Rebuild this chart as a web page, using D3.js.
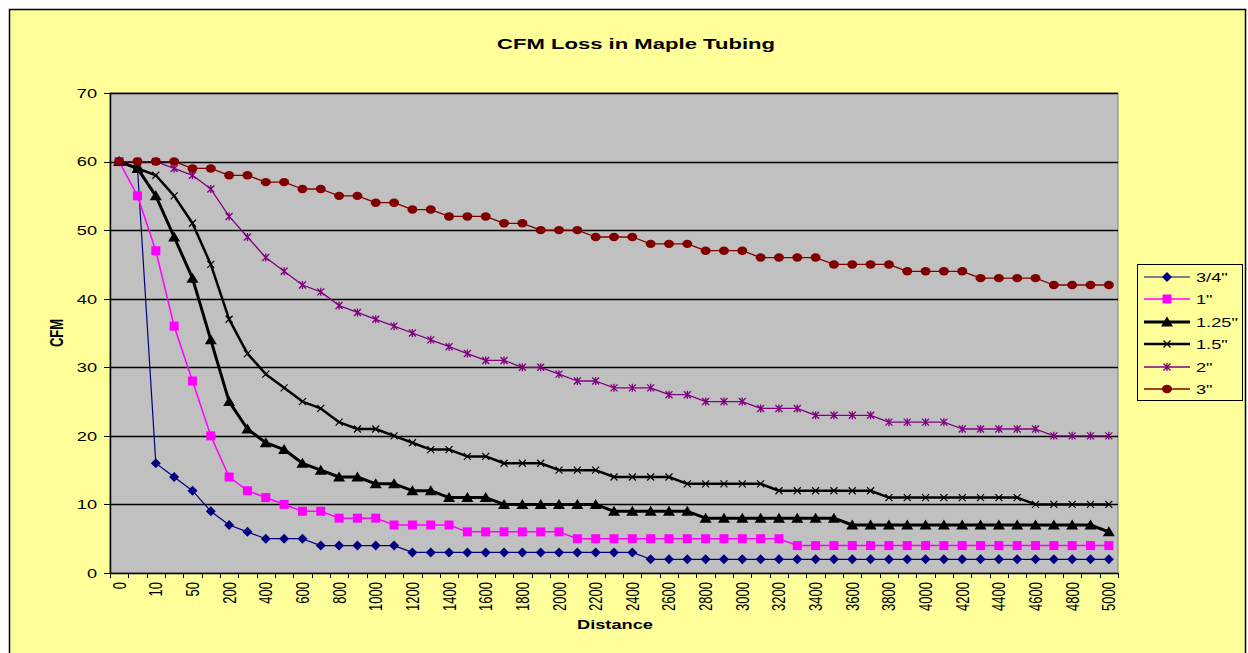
<!DOCTYPE html>
<html>
<head>
<meta charset="utf-8">
<script src="https://cdn.jsdelivr.net/npm/d3@7"></script>
<style>
  html, body { margin: 0; padding: 0; background: #ffffff; }
  svg { display: block; font-family: Arial, "Liberation Sans", sans-serif; }
</style>
</head>
<body>
<svg id="chart" width="1248" height="653"></svg>
<script>
// Distance categories (feet)
const distances = [0, 5, 10, 25, 50, 100,
  200, 300, 400, 500, 600, 700, 800, 900, 1000, 1100, 1200, 1300, 1400, 1500,
  1600, 1700, 1800, 1900, 2000, 2100, 2200, 2300, 2400, 2500, 2600, 2700, 2800,
  2900, 3000, 3100, 3200, 3300, 3400, 3500, 3600, 3700, 3800, 3900, 4000, 4100,
  4200, 4300, 4400, 4500, 4600, 4700, 4800, 4900, 5000];

// Every other category carries a label
const xTickLabels = distances.filter((d, i) => i % 2 === 0);
const yTicks = [0, 10, 20, 30, 40, 50, 60, 70];

const seriesNames = ['3/4"', '1"', '1.25"', '1.5"', '2"', '3"'];

const cfm075 = [60, 59, 16, 14, 12, 9, 7, 6, 5, 5, 5, 4, 4, 4, 4, 4,
  3, 3, 3, 3, 3, 3, 3, 3, 3, 3, 3, 3, 3,
  2, 2, 2, 2, 2, 2, 2, 2, 2, 2, 2, 2, 2, 2, 2, 2, 2, 2, 2, 2, 2, 2, 2, 2, 2, 2];

const cfm100 = [60, 55, 47, 36, 28, 20, 14, 12, 11, 10, 9, 9, 8, 8, 8,
  7, 7, 7, 7,
  6, 6, 6, 6, 6, 6,
  5, 5, 5, 5, 5, 5, 5, 5, 5, 5, 5, 5,
  4, 4, 4, 4, 4, 4, 4, 4, 4, 4, 4, 4, 4, 4, 4, 4, 4, 4];

const cfm125 = [60, 59, 55, 49, 43, 34, 25, 21, 19, 18, 16, 15, 14, 14, 13, 13,
  12, 12, 11, 11, 11,
  10, 10, 10, 10, 10, 10,
  9, 9, 9, 9, 9,
  8, 8, 8, 8, 8, 8, 8, 8,
  7, 7, 7, 7, 7, 7, 7, 7, 7, 7, 7, 7, 7, 7,
  6];

const cfm150 = [60, 59, 58, 55, 51, 45, 37, 32, 29, 27, 25, 24, 22, 21, 21, 20,
  19, 18, 18, 17, 17, 16, 16, 16, 15, 15, 15,
  14, 14, 14, 14,
  13, 13, 13, 13, 13,
  12, 12, 12, 12, 12, 12,
  11, 11, 11, 11, 11, 11, 11, 11,
  10, 10, 10, 10, 10];

const cfm200 = [60, 60, 60, 59, 58, 56, 52, 49, 46, 44, 42, 41, 39, 38, 37, 36,
  35, 34, 33, 32, 31, 31, 30, 30, 29, 28, 28, 27, 27, 27, 26, 26,
  25, 25, 25, 24, 24, 24, 23, 23, 23, 23, 22, 22, 22, 22,
  21, 21, 21, 21, 21, 20, 20, 20, 20];

const cfm300 = [60, 60, 60, 60, 59, 59, 58, 58, 57, 57, 56, 56, 55, 55, 54, 54,
  53, 53, 52, 52, 52, 51, 51, 50, 50, 50, 49, 49, 49, 48, 48, 48,
  47, 47, 47, 46, 46, 46, 46, 45, 45, 45, 45, 44, 44, 44, 44,
  43, 43, 43, 43, 42, 42, 42, 42];

const seriesValues = [cfm075, cfm100, cfm125, cfm150, cfm200, cfm300];

// Visual style for each series
const styles = [
  { color: '#000080', width: 1.2, marker: 'diamond' },
  { color: '#FF00FF', width: 1.5, marker: 'square' },
  { color: '#000000', width: 3,   marker: 'triangle' },
  { color: '#000000', width: 2.5, marker: 'x' },
  { color: '#800080', width: 1.3, marker: 'asterisk' },
  { color: '#800000', width: 1.3, marker: 'circle' }
];

// Text in this chart is drawn horizontally widened
const WIDEN = 1.4;

const svg = d3.select('#chart');

// Chart area background with frame
svg.append('rect').attr('x', 9.5).attr('y', 9.5).attr('width', 1236).attr('height', 660)
  .attr('fill', '#FFFF99').attr('stroke', '#000').attr('stroke-width', 1.5);

const plot = { left: 110, right: 1118, top: 93, bottom: 573 };

const x = d3.scaleBand().domain(d3.range(distances.length))
  .range([plot.left, plot.right]).padding(0);
const y = d3.scaleLinear().domain([0, 70]).range([plot.bottom, plot.top]);
const cx = i => x(i) + x.bandwidth() / 2;

// Plot area
svg.append('rect').attr('x', plot.left).attr('y', plot.top)
  .attr('width', plot.right - plot.left).attr('height', plot.bottom - plot.top)
  .attr('fill', '#C0C0C0').attr('stroke', '#808080').attr('stroke-width', 1);

// Horizontal gridlines
svg.append('g').selectAll('line').data(yTicks.filter(v => v > 0)).join('line')
  .attr('x1', plot.left).attr('x2', plot.right)
  .attr('y1', d => Math.round(y(d)) + 0.5).attr('y2', d => Math.round(y(d)) + 0.5)
  .attr('stroke', '#000').attr('stroke-width', 1.3);

// Y axis
const yg = svg.append('g');
yg.append('line').attr('x1', plot.left + 0.5).attr('x2', plot.left + 0.5)
  .attr('y1', plot.top).attr('y2', plot.bottom + 1)
  .attr('stroke', '#000').attr('stroke-width', 1.5);
yg.selectAll('line.tk').data(yTicks).join('line').attr('class', 'tk')
  .attr('x1', plot.left - 6).attr('x2', plot.left)
  .attr('y1', d => Math.round(y(d)) + 0.5).attr('y2', d => Math.round(y(d)) + 0.5)
  .attr('stroke', '#000').attr('stroke-width', 1);
yg.selectAll('text').data(yTicks).join('text')
  .attr('transform', d => `translate(97,${y(d) + 4.8}) scale(${WIDEN},1)`)
  .attr('text-anchor', 'end').attr('font-size', 13).text(d => d);

// X axis: tick marks at category boundaries
const xg = svg.append('g');
xg.append('line').attr('x1', plot.left).attr('x2', plot.right)
  .attr('y1', plot.bottom + 0.5).attr('y2', plot.bottom + 0.5)
  .attr('stroke', '#000').attr('stroke-width', 1.5);
xg.selectAll('line.tk').data(d3.range(distances.length + 1)).join('line')
  .attr('class', 'tk')
  .attr('x1', i => Math.round(plot.left + i * x.bandwidth()) + 0.5)
  .attr('x2', i => Math.round(plot.left + i * x.bandwidth()) + 0.5)
  .attr('y1', plot.bottom).attr('y2', plot.bottom + 5)
  .attr('stroke', '#000').attr('stroke-width', 1);
xg.selectAll('text').data(xTickLabels).join('text')
  .attr('transform', d => `translate(${cx(distances.indexOf(d)) + 6.5},${plot.bottom + 9}) scale(${WIDEN},1) rotate(-90)`)
  .attr('text-anchor', 'end')
  .attr('font-size', 13)
  .text(d => d);

// Titles
svg.append('text').attr('x', 497).attr('y', 49)
  .attr('textLength', 278).attr('lengthAdjust', 'spacingAndGlyphs')
  .attr('font-size', 15).attr('font-weight', 'bold').text('CFM Loss in Maple Tubing');
svg.append('text').attr('transform', `translate(63,333) scale(${WIDEN},1) rotate(-90)`).attr('text-anchor', 'middle')
  .attr('font-size', 13).attr('font-weight', 'bold').text('CFM');
svg.append('text').attr('x', 577).attr('y', 629)
  .attr('textLength', 76).attr('lengthAdjust', 'spacingAndGlyphs')
  .attr('font-size', 13).attr('font-weight', 'bold').text('Distance');

// Marker drawing
function drawMarker(g, type, color) {
  switch (type) {
    case 'diamond':
      g.append('path').attr('d', 'M0,-5L5,0L0,5L-5,0Z').attr('fill', color);
      break;
    case 'square':
      g.append('rect').attr('x', -4.5).attr('y', -4.5).attr('width', 9).attr('height', 9).attr('fill', color);
      break;
    case 'triangle':
      g.append('path').attr('d', 'M0,-5.5L6,4.5L-6,4.5Z').attr('fill', color);
      break;
    case 'x':
      g.append('path').attr('d', 'M-3.5,-3.5L3.5,3.5M-3.5,3.5L3.5,-3.5')
        .attr('stroke', color).attr('stroke-width', 1.2).attr('fill', 'none');
      break;
    case 'asterisk':
      g.append('path').attr('d', 'M-3.5,-3.5L3.5,3.5M-3.5,3.5L3.5,-3.5M0,-4L0,4')
        .attr('stroke', color).attr('stroke-width', 1.3).attr('fill', 'none');
      break;
    case 'circle':
      g.append('ellipse').attr('rx', 5).attr('ry', 4.2).attr('fill', color);
      break;
  }
}

// Series lines and markers
const line = d3.line().x((d, i) => cx(i)).y(d => y(d));
seriesValues.forEach((vals, s) => {
  const st = styles[s];
  const g = svg.append('g');
  g.append('path').datum(vals).attr('d', line)
    .attr('fill', 'none').attr('stroke', st.color).attr('stroke-width', st.width)
    .attr('stroke-linejoin', 'round');
  vals.forEach((v, i) => {
    const m = g.append('g').attr('transform', `translate(${cx(i)},${y(v)})`);
    drawMarker(m, st.marker, st.color);
  });
});

// Legend
const lg = svg.append('g');
lg.append('rect').attr('x', 1137.5).attr('y', 264.5).attr('width', 105).attr('height', 136)
  .attr('fill', '#FFFF99').attr('stroke', '#000').attr('stroke-width', 1);
const legendY = [277, 299, 322, 344, 367, 389];
seriesNames.forEach((name, s) => {
  const st = styles[s];
  const yy = legendY[s];
  lg.append('line').attr('x1', 1144).attr('x2', 1190).attr('y1', yy).attr('y2', yy)
    .attr('stroke', st.color).attr('stroke-width', st.width);
  const m = lg.append('g').attr('transform', `translate(1167,${yy})`);
  drawMarker(m, st.marker, st.color);
  lg.append('text').attr('transform', `translate(1196,${yy + 5}) scale(${WIDEN},1)`)
    .attr('font-size', 13).text(name);
});
</script>
</body>
</html>
